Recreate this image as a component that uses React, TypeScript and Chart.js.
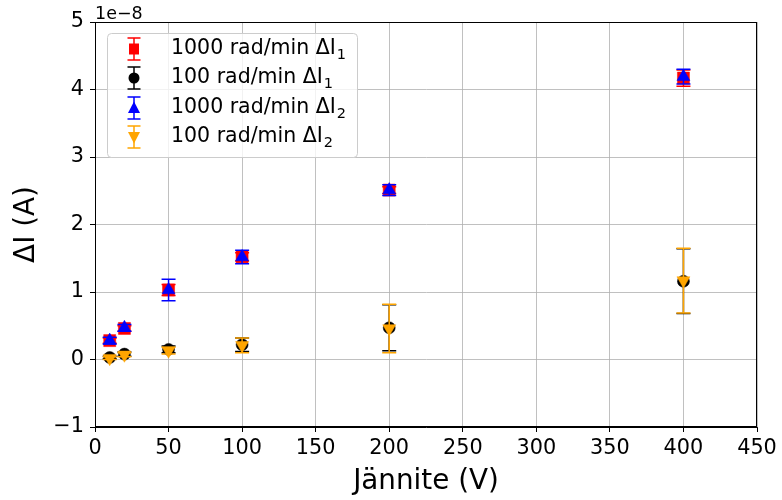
import React, { useEffect, useRef } from 'react';
import { Chart, registerables } from 'chart.js';
Chart.register(...registerables);

const voltages = [10, 20, 50, 100, 200, 400];

const fastI1 = [0.28, 0.46, 1.03, 1.52, 2.51, 4.17];
const fastI1Err = [0.04, 0.04, 0.08, 0.06, 0.05, 0.12];

const slowI1 = [0.03, 0.08, 0.15, 0.22, 0.47, 1.16];
const slowI1Err = [0.02, 0.03, 0.05, 0.1, 0.34, 0.48];

const fastI2 = [0.28, 0.47, 1.03, 1.52, 2.51, 4.19];
const fastI2Err = [0.05, 0.05, 0.16, 0.1, 0.08, 0.11];

const slowI2 = [0.02, 0.07, 0.13, 0.21, 0.46, 1.17];
const slowI2Err = [0.02, 0.03, 0.05, 0.11, 0.36, 0.48];

const seriesNames = ['1000 rad/min ΔI', '100 rad/min ΔI', '1000 rad/min ΔI', '100 rad/min ΔI'];
const seriesSubs = ['1', '1', '2', '2'];
const seriesColors = ['#ff0000', '#000000', '#0000ff', '#ffa500'];

const xTitle = 'Jännite (V)';
const yTitle = 'ΔI (A)';
const offsetText = '1e\u22128';

const FONT = "'DejaVu Sans', sans-serif";

function toPoints(vals: number[]) {
  return voltages.map((x, i) => ({ x, y: vals[i] }));
}

const errorBarPlugin = {
  id: 'errorBars',
  beforeDatasetDraw(chart: any, args: any) {
    const ds = chart.data.datasets[args.index];
    const errs = ds.errors;
    if (!errs) return;
    const ctx = chart.ctx;
    const ys = chart.scales.y;
    ctx.save();
    ctx.strokeStyle = ds.borderColor;
    ctx.lineWidth = 1.5;
    args.meta.data.forEach((pt: any, i: number) => {
      const v = ds.data[i].y;
      const e = errs[i];
      const yt = ys.getPixelForValue(v + e);
      const yb = ys.getPixelForValue(v - e);
      const x = pt.x;
      ctx.beginPath();
      ctx.moveTo(x, yt);
      ctx.lineTo(x, yb);
      ctx.moveTo(x - 7, yt);
      ctx.lineTo(x + 7, yt);
      ctx.moveTo(x - 7, yb);
      ctx.lineTo(x + 7, yb);
      ctx.stroke();
    });
    ctx.restore();
  },
};

function drawMarker(ctx: CanvasRenderingContext2D, kind: string, x: number, y: number, color: string) {
  ctx.fillStyle = color;
  ctx.beginPath();
  if (kind === 'rect') {
    ctx.rect(x - 5, y - 5.5, 10, 11);
  } else if (kind === 'circle') {
    ctx.arc(x, y, 5.5, 0, Math.PI * 2);
  } else if (kind === 'up') {
    ctx.moveTo(x, y - 6.5);
    ctx.lineTo(x + 6, y + 5);
    ctx.lineTo(x - 6, y + 5);
    ctx.closePath();
  } else {
    ctx.moveTo(x, y + 6.5);
    ctx.lineTo(x + 6, y - 5);
    ctx.lineTo(x - 6, y - 5);
    ctx.closePath();
  }
  ctx.fill();
}

const decorPlugin = {
  id: 'decor',
  afterDraw(chart: any) {
    const ctx = chart.ctx as CanvasRenderingContext2D;
    const a = chart.chartArea;
    ctx.save();
    // frame
    ctx.strokeStyle = '#000';
    ctx.lineWidth = 1;
    ctx.strokeRect(Math.round(a.left) + 0.5, Math.round(a.top) + 0.5, Math.round(a.right - a.left) - 1, Math.round(a.bottom - a.top) - 1);
    // offset text
    ctx.fillStyle = '#000';
    ctx.font = `17.5px ${FONT}`;
    ctx.textAlign = 'left';
    ctx.textBaseline = 'alphabetic';
    ctx.fillText(offsetText, a.left, 19);
    // legend
    const lx = 107.5, ly = 33.5, lw = 250, lh = 124;
    ctx.beginPath();
    (ctx as any).roundRect(lx, ly, lw, lh, 4);
    ctx.fillStyle = 'rgba(255,255,255,0.8)';
    ctx.fill();
    ctx.strokeStyle = '#cccccc';
    ctx.stroke();
    const kinds = ['rect', 'circle', 'up', 'down'];
    const rowY = [49, 78, 108, 137];
    for (let i = 0; i < 4; i++) {
      const cy = rowY[i];
      const mx = 134;
      const col = seriesColors[i];
      ctx.strokeStyle = col;
      ctx.lineWidth = 1.5;
      ctx.beginPath();
      ctx.moveTo(mx, cy - 11);
      ctx.lineTo(mx, cy + 11);
      ctx.moveTo(mx - 6.5, cy - 11);
      ctx.lineTo(mx + 6.5, cy - 11);
      ctx.moveTo(mx - 6.5, cy + 11);
      ctx.lineTo(mx + 6.5, cy + 11);
      ctx.stroke();
      drawMarker(ctx, kinds[i], mx, cy, col);
      ctx.fillStyle = '#000';
      ctx.font = `20.5px ${FONT}`;
      ctx.textAlign = 'left';
      ctx.textBaseline = 'middle';
      ctx.fillText(seriesNames[i], 171, cy);
      const w = ctx.measureText(seriesNames[i]).width;
      ctx.font = `14.5px ${FONT}`;
      ctx.fillText(seriesSubs[i], 171 + w + 1, cy + 6);
    }
    ctx.restore();
  },
};

export default function App() {
  const ref = useRef<HTMLCanvasElement | null>(null);
  useEffect(() => {
    if (!ref.current) return;
    const mk = (label: string, vals: number[], errs: number[], color: string, style: string, radius: number, rotation: number, order: number) => ({
      label,
      data: toPoints(vals),
      errors: errs,
      borderColor: color,
      backgroundColor: color,
      pointStyle: style,
      pointRadius: radius,
      pointHoverRadius: radius,
      pointRotation: rotation,
      pointBorderWidth: 0.5,
      showLine: false,
      order,
    });
    const chart = new Chart(ref.current, {
      type: 'scatter',
      data: {
        datasets: [
          mk('1000 rad/min ΔI1', fastI1, fastI1Err, seriesColors[0], 'rect', 8.5, 0, 3),
          mk('100 rad/min ΔI1', slowI1, slowI1Err, seriesColors[1], 'circle', 6, 0, 2),
          mk('1000 rad/min ΔI2', fastI2, fastI2Err, seriesColors[2], 'triangle', 7.5, 0, 1),
          mk('100 rad/min ΔI2', slowI2, slowI2Err, seriesColors[3], 'triangle', 7.5, 180, 0),
        ] as any,
      },
      options: {
        animation: false,
        responsive: false,
        devicePixelRatio: 1,
        layout: { padding: { top: 22, right: 25, left: 0, bottom: 0 } },
        plugins: { legend: { display: false }, tooltip: { enabled: false } },
        scales: {
          x: {
            type: 'linear',
            min: 0,
            max: 450,
            afterFit: (s: any) => { s.height = 73; },
            ticks: { stepSize: 50, color: '#000', font: { family: FONT, size: 20.8 }, padding: 4, maxRotation: 0 },
            grid: { color: '#b0b0b0', lineWidth: 0.8, tickColor: '#000', tickLength: 5, tickWidth: 1 },
            border: { color: '#000', width: 1 },
            title: { display: true, text: xTitle, color: '#000', font: { family: FONT, size: 27.8 }, padding: { top: 2, bottom: 2 } },
          },
          y: {
            type: 'linear',
            min: -1,
            max: 5,
            afterFit: (s: any) => { s.width = 95; },
            ticks: {
              stepSize: 1,
              color: '#000',
              font: { family: FONT, size: 20.8 },
              padding: 6,
              callback: (v: any) => (v < 0 ? '\u2212' + Math.abs(v) : String(v)),
            },
            grid: { color: '#b0b0b0', lineWidth: 0.8, tickColor: '#000', tickLength: 5, tickWidth: 1 },
            border: { color: '#000', width: 1 },
            title: { display: true, text: yTitle, color: '#000', font: { family: FONT, size: 27.8 }, padding: { top: 10, bottom: 10 } },
          },
        },
      },
      plugins: [errorBarPlugin, decorPlugin],
    } as any);
    return () => chart.destroy();
  }, []);
  return (
    <div style={{ position: 'fixed', left: 0, top: 0, width: 782, height: 500, background: '#fff' }}>
      <canvas ref={ref} width={782} height={500} style={{ display: 'block' }} />
    </div>
  );
}
